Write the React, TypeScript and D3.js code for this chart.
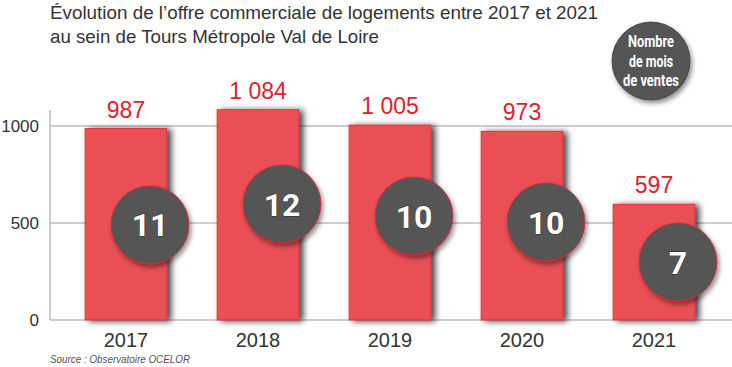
import React from 'react';
import * as d3 from 'd3';

const years = ['2017', '2018', '2019', '2020', '2021'];
const offers = [987, 1084, 1005, 973, 597];
const offerLabels = ['987', '1 084', '1 005', '973', '597'];
const salesMonths = [11, 12, 10, 10, 7];
// where each badge sits, in offer units
const badgeLevel = [490, 598, 536, 505, 299];
const yTicks = [0, 500, 1000];
const legendLines = ['Nombre', 'de mois', 'de ventes'];

const W = 732;
const H = 367;

const App: React.FC = () => {
  const x = d3.scaleBand<string>()
    .domain(years)
    .range([60, 720])
    .paddingInner(0.38)
    .paddingOuter(0.19);

  const y = d3.scaleLinear().domain([0, 1000]).range([320, 126]);

  const r = 39;
  const font = '"Liberation Sans", Arial, sans-serif';
  const boldFont = 'Roboto, "Liberation Sans", sans-serif';

  return (
    <svg width={W} height={H} style={{ position: 'absolute', left: 0, top: 0, background: '#fff' }}>
      <defs>
        <filter id="barShadow" x="-20%" y="-10%" width="150%" height="130%">
          <feGaussianBlur in="SourceAlpha" stdDeviation="3" />
          <feOffset dx="4" dy="1" result="b" />
          <feComponentTransfer><feFuncA type="linear" slope="0.75" /></feComponentTransfer>
          <feMerge><feMergeNode /><feMergeNode in="SourceGraphic" /></feMerge>
        </filter>
        <filter id="circShadow" x="-30%" y="-30%" width="170%" height="170%">
          <feGaussianBlur in="SourceAlpha" stdDeviation="2.5" />
          <feOffset dx="2" dy="3" result="b" />
          <feComponentTransfer><feFuncA type="linear" slope="0.45" /></feComponentTransfer>
          <feMerge><feMergeNode /><feMergeNode in="SourceGraphic" /></feMerge>
        </filter>
      </defs>

      {/* title */}
      <text x={50} y={19} fontFamily={font} fontSize={19} fill="#333" textLength={548} lengthAdjust="spacingAndGlyphs">
        Évolution de l’offre commerciale de logements entre 2017 et 2021
      </text>
      <text x={50} y={43} fontFamily={font} fontSize={19} fill="#333" textLength={329} lengthAdjust="spacingAndGlyphs">
        au sein de Tours Métropole Val de Loire
      </text>

      {/* grid */}
      {yTicks.map(t => (
        <g key={t}>
          <line x1={50} x2={W} y1={y(t)} y2={y(t)} stroke="#bdbdbd" strokeWidth={1.5} />
          <text x={39} y={y(t)} dy="0.36em" textAnchor="end" fontFamily={font} fontSize={17} fill="#333">{t}</text>
        </g>
      ))}
      <line x1={50} x2={50} y1={110} y2={y(0)} stroke="#bdbdbd" strokeWidth={1.5} />

      {/* bars */}
      {years.map((yr, i) => (
        <rect key={yr} x={x(yr)!} y={y(offers[i])} width={x.bandwidth()} height={y(0) - y(offers[i])}
          fill="#e94f55" stroke="#e3262e" strokeWidth={0.8} filter="url(#barShadow)" />
      ))}

      {/* value labels */}
      {years.map((yr, i) => (
        <text key={yr} x={x(yr)! + x.bandwidth() / 2} y={y(offers[i]) - 11} textAnchor="middle"
          fontFamily={font} fontSize={23} fill="#e3202a">{offerLabels[i]}</text>
      ))}

      {/* badges */}
      {years.map((yr, i) => {
        const cx = x(yr)! + x.bandwidth() / 2 + 24;
        const cy = y(badgeLevel[i]);
        return (
          <g key={yr}>
            <circle cx={cx} cy={cy} r={r} fill="#555" stroke="#e3262e" strokeWidth={0.8} filter="url(#circShadow)" />
            <text x={cx} y={cy} dy="0.36em" textAnchor="middle" fontFamily={boldFont} fontWeight={700}
              fontSize={32} fill="#fff" stroke="#2a2a2a" strokeWidth={0.8} paintOrder="stroke">{salesMonths[i]}</text>
          </g>
        );
      })}

      {/* legend badge */}
      <circle cx={651} cy={61} r={39} fill="#555" stroke="#3a3a3a" strokeWidth={0.8} filter="url(#circShadow)" />
      {legendLines.map((s, i) => (
        <text key={s} x={651} y={47 + i * 19.5} textAnchor="middle" fontFamily={boldFont}
          fontWeight={700} fontSize={17} fill="#fff"
          textLength={[46, 44, 56][i]} lengthAdjust="spacingAndGlyphs">{s}</text>
      ))}

      {/* x labels */}
      {years.map(yr => (
        <text key={yr} x={x(yr)! + x.bandwidth() / 2} y={347} textAnchor="middle" fontFamily={font}
          fontSize={20} fill="#333">{yr}</text>
      ))}

      <text x={50} y={363} fontFamily={font} fontStyle="italic" fontSize={11} fill="#555"
        textLength={140} lengthAdjust="spacingAndGlyphs">
        Source : Observatoire OCELOR
      </text>
    </svg>
  );
};

export default App;
